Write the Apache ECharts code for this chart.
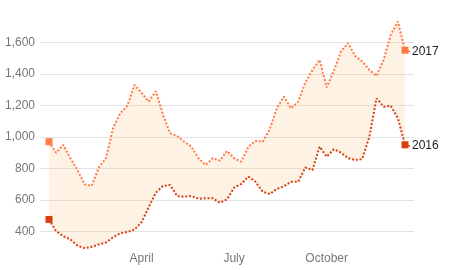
<!DOCTYPE html>
<html>
<head>
<meta charset="utf-8">
<script src="https://cdn.jsdelivr.net/npm/echarts@6/dist/echarts.min.js"></script>
<style>html,body{margin:0;padding:0;background:#fff}#c{width:451px;height:270px}</style>
</head>
<body>
<div id="c"></div>
<script>
const weeks = ['2017-01-01','2017-01-08','2017-01-15','2017-01-22','2017-01-29','2017-02-05','2017-02-12','2017-02-19','2017-02-26','2017-03-05','2017-03-12','2017-03-19','2017-03-26','2017-04-02','2017-04-09','2017-04-16','2017-04-23','2017-04-30','2017-05-07','2017-05-14','2017-05-21','2017-05-28','2017-06-04','2017-06-11','2017-06-18','2017-06-25','2017-07-02','2017-07-09','2017-07-16','2017-07-23','2017-07-30','2017-08-06','2017-08-13','2017-08-20','2017-08-27','2017-09-03','2017-09-10','2017-09-17','2017-09-24','2017-10-01','2017-10-08','2017-10-15','2017-10-22','2017-10-29','2017-11-05','2017-11-12','2017-11-19','2017-11-26','2017-12-03','2017-12-10','2017-12-17'];
const values2017 = [970,900,950,865,790,700,690,808,865,1055,1150,1197,1330,1280,1224,1290,1144,1024,1006,970,938,865,822,865,850,911,865,843,938,975,970,1049,1182,1256,1182,1224,1345,1425,1489,1315,1420,1542,1595,1514,1478,1425,1387,1489,1648,1732,1550];
const values2016 = [477,403,370,350,310,295,303,319,331,363,389,397,412,459,554,646,689,695,625,621,625,608,611,611,583,604,678,702,748,716,653,638,670,687,716,716,806,790,938,875,922,901,865,854,860,1002,1245,1192,1198,1119,950];
const tickWeeks = ['2017-04-02','2017-07-02','2017-10-01'];
const tickLabels = ['April','July','October'];
const yTicks = [400,600,800,1000,1200,1400,1600];

const last = weeks.length - 1;
const c2017 = '#ff7a45', c2016 = '#d8400f';
const band = values2017.map((v, i) => v - values2016[i]);
const endSym = (v, p) => (p.dataIndex === 0 || p.dataIndex === last) ? 7 : 0;
const FONT = 'Liberation Sans, Arial, sans-serif';

function lineSeries(name, data, color) {
  return {
    name, type: 'line', data, z: 3, xAxisIndex: 1, yAxisIndex: 1,
    symbol: 'rect', symbolSize: endSym, showAllSymbol: true, showSymbol: true,
    itemStyle: { color },
    lineStyle: { color, width: 2, type: [2, 1.8] },
    emphasis: { disabled: true },
    endLabel: {
      show: true, distance: 1, offset: [0, 1],
      formatter: '{d|}{t|' + name + '}',
      rich: {
        d: { width: 4, height: 1.5, backgroundColor: color },
        t: { padding: [0, 0, 0, 2], fontSize: 12, color: '#222', fontFamily: FONT }
      }
    }
  };
}

const chart = echarts.init(document.getElementById('c'), null, { renderer: 'canvas' });
chart.setOption({
  animation: false,
  textStyle: { fontFamily: FONT },
  grid: [
    { left: 40, right: 37, top: 10.8, bottom: 6.9, containLabel: false, outerBoundsMode: 'none' },
    { left: 49, right: 46, top: 10.8, bottom: 6.9, containLabel: false, outerBoundsMode: 'none' }
  ],
  xAxis: [
    { type: 'value', gridIndex: 0, show: false, min: 0, max: 1 },
    {
      type: 'category', gridIndex: 1, data: weeks, boundaryGap: false, offset: -18,
      axisLine: { show: false }, axisTick: { show: false }, splitLine: { show: false },
      axisLabel: {
        margin: 8, color: '#777', fontSize: 12,
        interval: (i, v) => tickWeeks.indexOf(v) >= 0,
        formatter: v => { const i = tickWeeks.indexOf(v); return i >= 0 ? tickLabels[i] : ''; }
      }
    }
  ],
  yAxis: [
    {
      type: 'value', gridIndex: 0, min: 200, max: 1800, interval: 200,
      axisLine: { show: false }, axisTick: { show: false },
      splitLine: { show: true, showMinLine: false, showMaxLine: false, lineStyle: { color: '#e3e3e3', width: 1 } },
      axisLabel: {
        margin: 5, color: '#777', fontSize: 12, showMinLabel: false, showMaxLabel: false,
        formatter: v => yTicks.indexOf(v) >= 0 ? v.toLocaleString('en-US') : ''
      }
    },
    { type: 'value', gridIndex: 1, min: 200, max: 1800, interval: 200, show: false, splitLine: { show: false } }
  ],
  series: [
    { name: 'base', type: 'line', xAxisIndex: 1, yAxisIndex: 1, data: values2016, stack: 'band',
      symbol: 'none', lineStyle: { opacity: 0 }, silent: true, z: 1 },
    { name: 'band', type: 'line', xAxisIndex: 1, yAxisIndex: 1, data: band, stack: 'band',
      symbol: 'none', lineStyle: { opacity: 0 }, areaStyle: { color: 'rgba(251,192,127,0.3)' }, silent: true, z: 1 },
    lineSeries('2016', values2016, c2016),
    lineSeries('2017', values2017, c2017)
  ]
});
</script>
</body>
</html>
